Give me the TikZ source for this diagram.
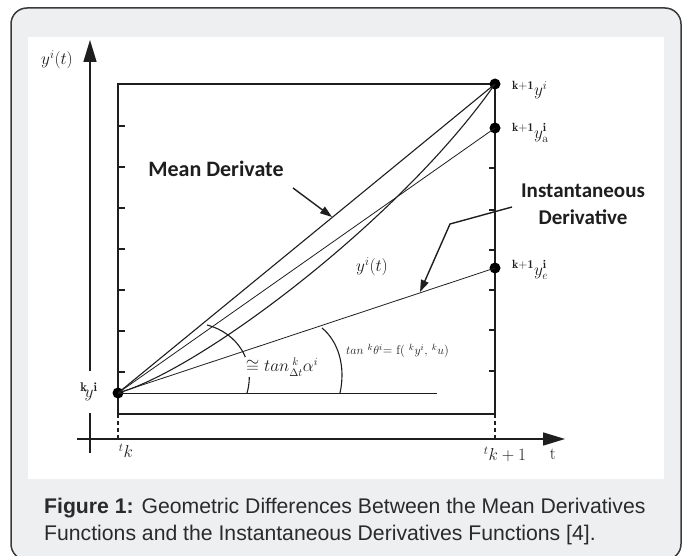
\documentclass[tikz,border=0pt]{standalone}
\usepackage{fontspec}
\usetikzlibrary{arrows.meta}
\newfontfamily\capfont{Liberation Sans}
\newfontfamily\labfont{Carlito}
\definecolor{panelgrey}{HTML}{EEEFF1}
\definecolor{boxline}{HTML}{3A3A3A}
\definecolor{ink}{HTML}{1E1E1E}
\definecolor{captxt}{HTML}{2A2A2A}
\tikzset{
  axisline/.style={draw=ink, line width=1.6pt, -{Triangle[length=22pt,width=13pt]}},
  frameline/.style={draw=ink, line width=1.3pt},
  thinline/.style={draw=ink, line width=0.8pt},
  midline/.style={draw=ink, line width=1.1pt},
  tickline/.style={draw=ink, line width=1.2pt},
  dot/.style={circle, fill=black, inner sep=0pt, minimum size=11pt},
  pointer/.style={draw=ink, line width=1.4pt, -{Triangle[length=12pt,width=8pt]}},
  boldlab/.style={font=\labfont\bfseries\fontsize{22}{27}\selectfont, text=ink, inner sep=0pt},
  mathlab/.style={font=\fontsize{17}{20}\selectfont, text=ink, inner sep=0pt},
}
\begin{document}
\begin{tikzpicture}[x=1pt,y=-1pt]
\useasboundingbox (0,0) rectangle (683,556);
\fill[white] (0,0) rectangle (683,556);
% outer card
\draw[rounded corners=16pt, fill=panelgrey, draw=boxline, line width=1.5pt] (11,8) rectangle (681,560);
\fill[white] (28,37) rectangle (664,479);

% angle arcs (drawn first so labels can break them)
\draw[midline] (247,393) .. controls (256,362) and (238,333) .. (207,325);
\draw[midline] (340,393) .. controls (346,366) and (338,341) .. (322,328);

% axes
\coordinate (ybot) at (90,453);
\coordinate (ytop) at (90,40);
\coordinate (tleft) at (77,439);
\coordinate (tright) at (565,439);
\draw[axisline] (ybot) -- (ytop);
\draw[axisline] (tleft) -- (tright);

% frame
\draw[frameline] (118,84) rectangle (495,414);
\foreach \yy in {126,167,208,249,290,331,372} \draw[tickline] (118,\yy) -- (125,\yy);
\foreach \yy in {168,210,250,290,330,371} \draw[tickline] (495,\yy) -- (489,\yy);
\draw[frameline, dash pattern=on 4pt off 3pt] (118,414) -- (118,439);
\draw[frameline, dash pattern=on 4pt off 3pt] (495,414) -- (495,439);

% points
\node[dot] (p0) at (118,393) {};
\node[dot] (p1) at (495,84) {};
\node[dot] (pa) at (495,128) {};
\node[dot] (pe) at (495,268) {};
\coordinate (hend) at (437,393);

% labels
\node[mathlab, font=\fontsize{18}{20}\selectfont, fill=white, minimum height=42pt, inner xsep=1pt] (lk) at (89,392) {${}^{\mathbf{k}}\!y^{\mathbf{i}}$};
\node[mathlab, anchor=north] (ltk) at (126,444) {$^{t}k$};
\node[mathlab, anchor=north] (ltk1) at (505,447) {$^{t}k+1$};
\node[mathlab, anchor=north] (lt) at (553,449) {t};
\node[mathlab, anchor=west] (ly1) at (512,90) {${}^{\mathbf{k+1}}y^{i}$};
\node[mathlab, anchor=west] (lya) at (512,133) {${}^{\mathbf{k+1}}y^{\mathbf{i}}_{\mathrm{a}}$};
\node[mathlab, anchor=west] (lye) at (512,270) {${}^{\mathbf{k+1}}y^{\mathbf{i}}_{e}$};
\node[mathlab, font=\fontsize{18}{20}\selectfont] (lyt) at (57,60) {$y^{i}(t)$};
\node[mathlab] (lyc) at (372,267) {$y^{i}(t)$};
\node[mathlab, font=\fontsize{16}{19}\selectfont, fill=white, inner sep=1pt] (lalpha) at (282,367) {$\cong tan_{\Delta t}^{\;k}\alpha^{i}$};
\node[mathlab, font=\fontsize{12.5}{14}\selectfont, anchor=west] (ltheta) at (346,351) {$tan\ {}^{k}\theta^{i}$= f(\ ${}^{k}y^{i}$, ${}^{k}u$)};
\node[boldlab] (lmean) at (216,169) {Mean Derivate};
\node[boldlab, font=\labfont\bfseries\fontsize{21}{27}\selectfont, align=center] (linst) at (583,204) {Instantaneous\\Derivative};

% curves and lines
\draw[midline] (p0.center) -- (p1.center);
\draw[thinline] (p0.center) -- (pa.center);
\draw[thinline] (p0.center) -- (pe.center);
\draw[midline] (p0.center) .. controls (200,370) and (400,220) .. (p1.center);
\draw[thinline] (p0.center) -- (hend);

% pointers
\coordinate (ma) at (293,188);
\coordinate (mb) at (332,217);
\draw[pointer] (ma) -- (mb);
\coordinate (ia) at (512,207);
\coordinate (ib) at (450,224);
\coordinate (ic) at (420,292);
\draw[pointer] (ia) -- (ib) -- (ic);

% caption
\node[anchor=west, font=\capfont\fontsize{21.2}{27}\selectfont, text=captxt, align=left, inner sep=0pt] (cap) at (44,522)
 {{\bfseries Figure 1:} Geometric Differences Between the Mean Derivatives\\Functions and the Instantaneous Derivatives Functions [4].};
\end{tikzpicture}
\end{document}
